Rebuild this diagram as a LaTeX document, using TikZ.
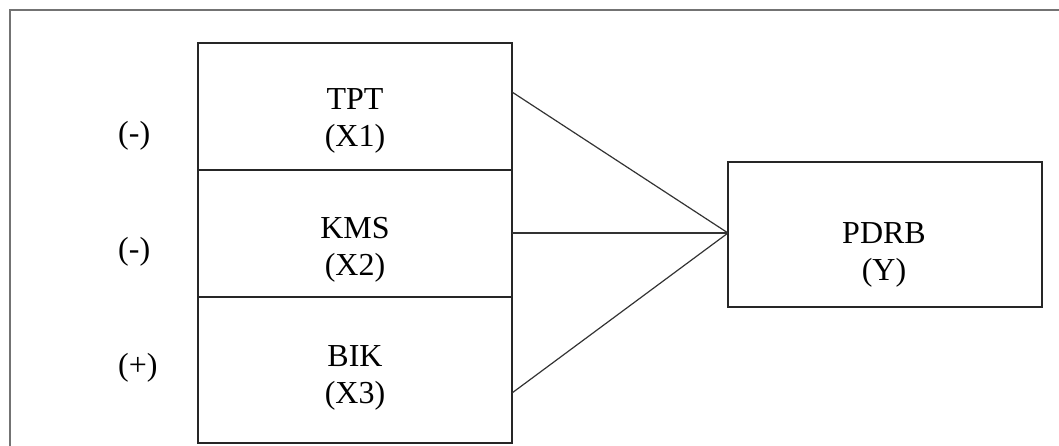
\documentclass[tikz,border=0pt]{standalone}
\usepackage{fontspec}
\setmainfont{Liberation Serif}
\begin{document}
\begin{tikzpicture}[x=1pt,y=-1pt,
  box/.style={draw=black!85,line width=1.2pt,rectangle,inner sep=0pt,outer sep=0pt},
  txt/.style={inner sep=0pt,align=center,font=\fontsize{32}{37}\selectfont},
  sign/.style={inner sep=0pt,anchor=base west,font=\fontsize{32}{37}\selectfont},
  link/.style={draw=black!80,line width=1.2pt}]
\useasboundingbox (0,0) rectangle (1059,446);
% outer frame (right and bottom sides lie outside the picture)
\draw[black!55,line width=1.4pt] (10,10) rectangle (1080,470);
% left boxes
\node[box,minimum width=314pt,minimum height=127pt] (tpt) at (355,106.5) {};
\node[box,minimum width=314pt,minimum height=127pt] (kms) at (355,233.5) {};
\node[box,minimum width=314pt,minimum height=146pt] (bik) at (355,370) {};
% right box
\node[box,minimum width=314pt,minimum height=145pt] (pdrb) at (885,234.5) {};
% texts
\node[txt] (tpttxt) at (355,120.5) {TPT\\(X1)};
\node[txt] (kmstxt) at (355,249.5) {KMS\\(X2)};
\node[txt] (biktxt) at (355,377.5) {BIK\\(X3)};
\node[txt] (pdrbtxt) at (884,254.5) {PDRB\\(Y)};
% signs
\node[sign] (s1) at (118,144) {(-)};
\node[sign] (s2) at (118,259) {(-)};
\node[sign] (s3) at (118,375) {(+)};
% connectors
\coordinate (meet) at ([yshift=1.5pt]pdrb.west);
\draw[link] ([yshift=14.5pt]tpt.east) -- (meet);
\draw[link] ([yshift=0.5pt]kms.east) -- (meet);
\draw[link] ([yshift=-23pt]bik.east) -- (meet);
\end{tikzpicture}
\end{document}
